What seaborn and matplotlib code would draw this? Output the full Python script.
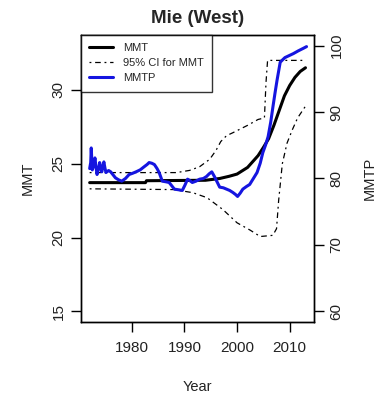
import numpy as np
import pandas as pd
import matplotlib
matplotlib.use("Agg")
import matplotlib.pyplot as plt
from matplotlib.lines import Line2D
import seaborn as sns

# Minimum mortality temperature (MMT) and its 95% CI, left axis
mmt_year = [1972, 1982.6, 1982.8, 1994, 1996.7, 1998.5, 2000, 2002, 2004, 2005, 2006, 2007, 2008, 2009, 2010, 2011, 2012, 2013]
mmt_val = [23.72, 23.72, 23.85, 23.88, 24.0, 24.15, 24.3, 24.75, 25.55, 26.1, 26.7, 27.6, 28.6, 29.6, 30.3, 30.85, 31.25, 31.5]

ci_up_year = [1972, 1988.5, 1991, 1992.9, 1994.8, 1996.0, 1996.9, 1998, 1999.2, 2002, 2004, 2005.2, 2005.5, 2005.8, 2008, 2013]
ci_up_val = [24.4, 24.4, 24.55, 24.8, 25.3, 25.9, 26.5, 26.9, 27.1, 27.6, 28.0, 28.1, 30.5, 32.0, 32.0, 32.0]

ci_lo_year = [1972, 1988, 1991.6, 1994.3, 1997.3, 2000, 2002.5, 2004.4, 2006.8, 2007.5, 2007.9, 2008.6, 2009.5, 2010.5, 2011.5, 2013]
ci_lo_val = [23.3, 23.25, 23.04, 22.7, 21.9, 21.0, 20.5, 20.07, 20.15, 20.6, 22.5, 25.0, 26.4, 27.3, 28.1, 28.9]

# Minimum mortality temperature percentile (MMTP), right axis
mmtp_year = [1972.0, 1972.2, 1972.3, 1972.5, 1972.8, 1973.0, 1973.2, 1973.4, 1973.7, 1973.9, 1974.1, 1974.3,
             1974.5, 1974.7, 1974.9, 1975.1, 1975.6, 1976.0, 1976.5, 1976.9, 1977.5, 1978.1, 1978.8, 1979.5,
             1980.2, 1980.8, 1981.6, 1982.4, 1982.9, 1983.3, 1983.8, 1984.3, 1984.8, 1985.2, 1985.8, 1986.5,
             1987.1, 1987.6, 1988.1, 1988.9, 1989.6, 1990.1, 1990.6, 1991.0, 1991.5, 1992.2, 1992.9, 1993.6,
             1994.2, 1994.7, 1995.2, 1995.7, 1996.2, 1996.7, 1997.4, 1998.0, 1998.6, 1999.2, 1999.7, 2000.1,
             2000.6, 2001.1, 2001.8, 2002.4, 2003.1, 2003.8, 2004.4, 2004.9, 2005.4, 2005.9, 2006.4, 2006.8,
             2007.2, 2007.6, 2008.2, 2008.7, 2009.1, 2009.9, 2010.7, 2011.6, 2012.6, 2013.2]
mmtp_val = [81.5, 82.4, 84.6, 81.3, 82.0, 83.1, 81.8, 80.6, 81.5, 82.4, 81.6, 81.0,
            81.8, 82.5, 81.6, 80.9, 81.2, 81.0, 80.5, 80.1, 79.8, 79.6, 80.0, 80.6,
            80.8, 81.0, 81.3, 81.8, 82.1, 82.4, 82.3, 82.1, 81.5, 80.9, 79.6, 79.5,
            79.4, 78.9, 78.4, 78.3, 78.2, 79.0, 79.9, 79.7, 79.4, 79.6, 79.9, 80.0,
            80.3, 80.7, 81.0, 80.3, 79.5, 78.7, 78.6, 78.4, 78.2, 77.9, 77.6, 77.3,
            77.8, 78.4, 78.8, 79.1, 80.0, 80.9, 82.3, 83.9, 85.0, 86.3, 88.5, 90.7,
            92.8, 94.8, 97.5, 97.9, 98.2, 98.5, 98.8, 99.2, 99.6, 99.85]

x_ticks = [1980, 1990, 2000, 2010]
left_ticks = [15, 20, 25, 30]
right_ticks = [60, 70, 80, 90, 100]

sns.set_theme(style="white")
plt.rcParams["font.family"] = ["Liberation Sans", "DejaVu Sans"]

fig = plt.figure(figsize=(3.84, 4.0), dpi=100)
ax = fig.add_axes([0.211, 0.195, 0.607, 0.7175])

mmt_df = pd.DataFrame({"Year": mmt_year, "MMT": mmt_val})
up_df = pd.DataFrame({"Year": ci_up_year, "MMT": ci_up_val})
lo_df = pd.DataFrame({"Year": ci_lo_year, "MMT": ci_lo_val})
mmtp_df = pd.DataFrame({"Year": mmtp_year, "MMTP": mmtp_val})

dashdot = (1.5, 3, 4.5, 3)
blue = "#1515e0"
sns.lineplot(data=mmt_df, x="Year", y="MMT", ax=ax, color="black", lw=2.2, sort=False)
for df in (up_df, lo_df):
    line = sns.lineplot(data=df, x="Year", y="MMT", ax=ax, color="black", lw=0.9, sort=False).lines[-1]
    line.set_dashes(dashdot)

ax.set_xlim(1970.36, 2014.64)
ax.set_ylim(14.28, 33.72)
ax.set_xticks(x_ticks)
ax.set_yticks(left_ticks)
ax.set_yticklabels([str(t) for t in left_ticks], rotation=90, va="center")
ax.tick_params(axis="both", direction="out", length=7, width=1, color="black",
               labelsize=11, labelcolor="#222222", pad=7, left=True, bottom=True)
ax.tick_params(axis="y", pad=4)
ax.set_xlabel("Year", fontsize=10.5, color="#222222", labelpad=18)
ax.set_ylabel("MMT", fontsize=10.5, color="#222222", labelpad=12)
for s in ax.spines.values():
    s.set_color("black")
    s.set_linewidth(1)

ax2 = ax.twinx()
sns.lineplot(data=mmtp_df, x="Year", y="MMTP", ax=ax2, color=blue, lw=2.2, sort=False)
ax2.set_ylim(58.4, 101.6)
ax2.set_yticks(right_ticks)
ax2.set_yticklabels([str(t) for t in right_ticks], rotation=90, va="center")
ax2.tick_params(axis="y", direction="out", length=7, width=1, color="black",
                labelsize=11, labelcolor="#222222", pad=4, right=True)
ax2.set_ylabel("MMTP", fontsize=10.5, color="#222222", labelpad=14)
ax2.set_xlim(1970.36, 2014.64)
for s in ax2.spines.values():
    s.set_color("black")
    s.set_linewidth(1)

handles = [
    Line2D([], [], color="black", lw=2.2),
    Line2D([], [], color="black", lw=0.9, dashes=dashdot),
    Line2D([], [], color=blue, lw=2.2),
]
leg = ax2.legend(handles, ["MMT", "95% CI for MMT", "MMTP"], loc="upper left",
                 bbox_to_anchor=(0, 1), borderaxespad=0, fontsize=8, frameon=True,
                 fancybox=False, edgecolor="black", handlelength=2.1, handletextpad=0.9,
                 labelspacing=0.45, borderpad=0.75)
leg.get_frame().set_linewidth(1)

fig.suptitle("Mie (West)", x=0.515, y=0.975, fontsize=13.5, fontweight="bold")

fig.savefig("out.png", dpi=100)
